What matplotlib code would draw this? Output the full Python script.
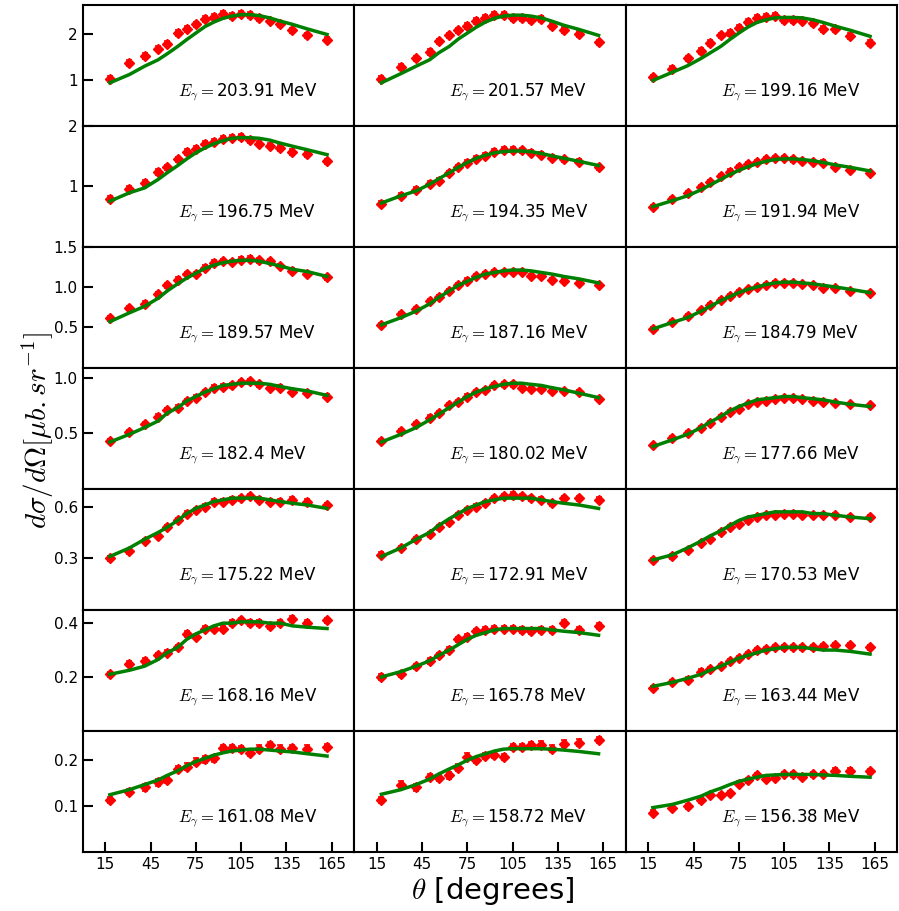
import numpy as np
import matplotlib
matplotlib.use("Agg")
from matplotlib import pyplot as plt

plt.rcParams["mathtext.fontset"] = "cm"

angles = [18, 31, 41, 50, 56, 63, 69, 75, 81, 87, 93, 99, 105, 111, 117, 124, 131, 139, 149, 162]

energies = [203.91, 201.57, 199.16,
            196.75, 194.35, 191.94,
            189.57, 187.16, 184.79,
            182.4, 180.02, 177.66,
            175.22, 172.91, 170.53,
            168.16, 165.78, 163.44,
            161.08, 158.72, 156.38]

# measured cross sections, one list per panel
exp_203 = [1.01, 1.36, 1.51, 1.67, 1.78, 2.01, 2.10, 2.20, 2.32, 2.36, 2.43, 2.38, 2.42, 2.40, 2.34, 2.28, 2.20, 2.07, 1.96, 1.87]
exp_201 = [1.01, 1.27, 1.46, 1.60, 1.83, 1.96, 2.07, 2.16, 2.27, 2.34, 2.40, 2.40, 2.34, 2.34, 2.30, 2.32, 2.16, 2.08, 1.99, 1.81]
exp_199 = [1.05, 1.24, 1.46, 1.62, 1.80, 1.96, 2.01, 2.13, 2.25, 2.34, 2.36, 2.38, 2.30, 2.30, 2.28, 2.23, 2.10, 2.10, 1.95, 1.80]
exp_196 = [0.79, 0.96, 1.05, 1.23, 1.31, 1.44, 1.56, 1.62, 1.70, 1.73, 1.78, 1.80, 1.81, 1.76, 1.70, 1.67, 1.63, 1.56, 1.53, 1.41]
exp_194 = [0.71, 0.84, 0.94, 1.04, 1.09, 1.21, 1.31, 1.39, 1.45, 1.50, 1.57, 1.60, 1.60, 1.59, 1.55, 1.52, 1.47, 1.44, 1.40, 1.31]
exp_191 = [0.66, 0.79, 0.88, 0.98, 1.07, 1.16, 1.24, 1.32, 1.36, 1.40, 1.44, 1.47, 1.47, 1.44, 1.42, 1.40, 1.39, 1.32, 1.27, 1.22]
exp_189 = [0.61, 0.74, 0.79, 0.91, 1.02, 1.09, 1.16, 1.16, 1.24, 1.30, 1.32, 1.31, 1.34, 1.35, 1.33, 1.32, 1.26, 1.20, 1.16, 1.12]
exp_187 = [0.53, 0.66, 0.73, 0.83, 0.88, 0.95, 1.03, 1.08, 1.14, 1.16, 1.19, 1.19, 1.18, 1.18, 1.14, 1.13, 1.09, 1.08, 1.05, 1.02]
exp_184 = [0.48, 0.57, 0.64, 0.71, 0.78, 0.84, 0.89, 0.94, 0.97, 1.00, 1.03, 1.05, 1.05, 1.05, 1.04, 1.03, 0.99, 0.99, 0.95, 0.93]
exp_182 = [0.43, 0.51, 0.58, 0.65, 0.71, 0.73, 0.79, 0.82, 0.87, 0.91, 0.92, 0.93, 0.96, 0.97, 0.94, 0.91, 0.91, 0.87, 0.86, 0.83]
exp_180 = [0.43, 0.52, 0.58, 0.64, 0.68, 0.75, 0.78, 0.83, 0.87, 0.89, 0.93, 0.94, 0.94, 0.91, 0.90, 0.90, 0.88, 0.88, 0.87, 0.81]
exp_177 = [0.39, 0.46, 0.50, 0.55, 0.59, 0.65, 0.69, 0.72, 0.76, 0.78, 0.79, 0.81, 0.82, 0.82, 0.81, 0.79, 0.78, 0.77, 0.76, 0.75]
exp_175 = [0.30, 0.34, 0.40, 0.43, 0.48, 0.52, 0.56, 0.58, 0.60, 0.63, 0.63, 0.64, 0.65, 0.66, 0.64, 0.63, 0.63, 0.64, 0.63, 0.61]
exp_172 = [0.32, 0.36, 0.41, 0.44, 0.48, 0.51, 0.55, 0.58, 0.60, 0.62, 0.65, 0.66, 0.67, 0.66, 0.65, 0.64, 0.62, 0.65, 0.65, 0.64]
exp_170 = [0.29, 0.31, 0.35, 0.39, 0.41, 0.45, 0.48, 0.50, 0.52, 0.54, 0.55, 0.55, 0.56, 0.56, 0.55, 0.55, 0.55, 0.55, 0.54, 0.54]
exp_168 = [0.21, 0.25, 0.26, 0.28, 0.29, 0.31, 0.36, 0.35, 0.38, 0.38, 0.38, 0.40, 0.41, 0.40, 0.40, 0.39, 0.40, 0.415, 0.40, 0.41]
exp_165 = [0.20, 0.21, 0.24, 0.26, 0.28, 0.30, 0.34, 0.35, 0.37, 0.375, 0.38, 0.38, 0.38, 0.375, 0.37, 0.375, 0.375, 0.40, 0.375, 0.39]
exp_163 = [0.16, 0.18, 0.19, 0.22, 0.23, 0.24, 0.26, 0.27, 0.285, 0.30, 0.305, 0.31, 0.31, 0.31, 0.31, 0.31, 0.315, 0.32, 0.32, 0.31]
exp_161 = [0.113, 0.130, 0.140, 0.151, 0.157, 0.180, 0.185, 0.196, 0.201, 0.203, 0.226, 0.225, 0.223, 0.215, 0.224, 0.231, 0.224, 0.225, 0.224, 0.228]
exp_158 = [0.112, 0.146, 0.140, 0.162, 0.160, 0.166, 0.183, 0.207, 0.199, 0.208, 0.210, 0.206, 0.228, 0.228, 0.232, 0.233, 0.224, 0.235, 0.237, 0.243]
exp_156 = [0.085, 0.096, 0.099, 0.112, 0.123, 0.123, 0.128, 0.148, 0.155, 0.166, 0.158, 0.161, 0.169, 0.168, 0.163, 0.168, 0.169, 0.176, 0.176, 0.175]

# model curves
th_203 = [0.93, 1.11, 1.29, 1.43, 1.56, 1.72, 1.87, 2.01, 2.15, 2.25, 2.33, 2.38, 2.41, 2.41, 2.39, 2.34, 2.27, 2.20, 2.10, 1.98]
th_201 = [0.93, 1.13, 1.29, 1.43, 1.58, 1.72, 1.88, 2.01, 2.14, 2.25, 2.33, 2.38, 2.40, 2.40, 2.38, 2.34, 2.27, 2.18, 2.09, 1.96]
th_199 = [0.98, 1.16, 1.30, 1.46, 1.58, 1.72, 1.87, 2.01, 2.14, 2.24, 2.30, 2.34, 2.35, 2.35, 2.34, 2.30, 2.24, 2.16, 2.07, 1.94]
th_196 = [0.75, 0.89, 0.97, 1.11, 1.22, 1.34, 1.45, 1.55, 1.63, 1.70, 1.75, 1.79, 1.80, 1.80, 1.79, 1.76, 1.71, 1.66, 1.60, 1.52]
th_194 = [0.72, 0.84, 0.92, 1.03, 1.12, 1.22, 1.31, 1.39, 1.46, 1.51, 1.55, 1.57, 1.58, 1.58, 1.57, 1.54, 1.50, 1.46, 1.41, 1.34]
th_191 = [0.66, 0.76, 0.84, 0.94, 1.02, 1.11, 1.19, 1.26, 1.32, 1.37, 1.41, 1.44, 1.45, 1.45, 1.44, 1.42, 1.39, 1.35, 1.31, 1.25]
th_189 = [0.57, 0.68, 0.76, 0.86, 0.95, 1.04, 1.11, 1.17, 1.23, 1.27, 1.30, 1.32, 1.33, 1.33, 1.32, 1.29, 1.26, 1.22, 1.19, 1.13]
th_187 = [0.53, 0.62, 0.70, 0.79, 0.87, 0.95, 1.02, 1.07, 1.12, 1.16, 1.18, 1.20, 1.21, 1.21, 1.20, 1.18, 1.16, 1.13, 1.10, 1.05]
th_184 = [0.48, 0.56, 0.62, 0.70, 0.76, 0.83, 0.88, 0.93, 0.97, 1.00, 1.03, 1.05, 1.06, 1.06, 1.05, 1.04, 1.02, 1.00, 0.97, 0.93]
th_182 = [0.42, 0.49, 0.55, 0.61, 0.68, 0.73, 0.79, 0.83, 0.87, 0.90, 0.93, 0.94, 0.95, 0.95, 0.95, 0.94, 0.92, 0.90, 0.88, 0.84]
th_180 = [0.42, 0.49, 0.55, 0.62, 0.67, 0.73, 0.78, 0.83, 0.87, 0.90, 0.92, 0.94, 0.95, 0.95, 0.94, 0.93, 0.91, 0.89, 0.86, 0.82]
th_177 = [0.38, 0.44, 0.49, 0.55, 0.60, 0.65, 0.70, 0.74, 0.77, 0.80, 0.81, 0.82, 0.83, 0.83, 0.82, 0.81, 0.80, 0.78, 0.76, 0.74]
th_175 = [0.31, 0.36, 0.41, 0.45, 0.48, 0.52, 0.56, 0.59, 0.61, 0.63, 0.64, 0.65, 0.65, 0.65, 0.65, 0.64, 0.63, 0.62, 0.61, 0.59]
th_172 = [0.31, 0.36, 0.41, 0.45, 0.49, 0.53, 0.56, 0.59, 0.61, 0.63, 0.64, 0.65, 0.65, 0.65, 0.65, 0.64, 0.63, 0.62, 0.61, 0.59]
th_170 = [0.29, 0.32, 0.36, 0.40, 0.43, 0.46, 0.49, 0.52, 0.54, 0.55, 0.56, 0.57, 0.57, 0.57, 0.57, 0.56, 0.56, 0.55, 0.54, 0.53]
th_168 = [0.21, 0.225, 0.24, 0.265, 0.29, 0.31, 0.34, 0.36, 0.375, 0.39, 0.40, 0.40, 0.405, 0.405, 0.405, 0.40, 0.40, 0.39, 0.385, 0.38]
th_165 = [0.20, 0.22, 0.24, 0.26, 0.28, 0.30, 0.32, 0.34, 0.355, 0.365, 0.375, 0.38, 0.38, 0.38, 0.38, 0.38, 0.375, 0.37, 0.365, 0.355]
th_163 = [0.165, 0.18, 0.195, 0.21, 0.225, 0.24, 0.255, 0.27, 0.28, 0.29, 0.30, 0.305, 0.31, 0.31, 0.31, 0.305, 0.30, 0.30, 0.295, 0.285]
th_161 = [0.124, 0.135, 0.146, 0.156, 0.166, 0.176, 0.187, 0.196, 0.203, 0.210, 0.215, 0.219, 0.221, 0.223, 0.223, 0.221, 0.219, 0.217, 0.213, 0.208]
th_158 = [0.125, 0.135, 0.146, 0.158, 0.169, 0.180, 0.189, 0.199, 0.207, 0.213, 0.219, 0.223, 0.224, 0.224, 0.224, 0.224, 0.223, 0.221, 0.218, 0.213]
th_156 = [0.096, 0.103, 0.112, 0.121, 0.130, 0.138, 0.146, 0.153, 0.158, 0.162, 0.166, 0.167, 0.168, 0.168, 0.168, 0.168, 0.167, 0.166, 0.164, 0.162]

# typical error bar size in each panel
errors = [0.06, 0.06, 0.06,
          0.045, 0.04, 0.035,
          0.03, 0.025, 0.022,
          0.02, 0.02, 0.016,
          0.014, 0.014, 0.012,
          0.01, 0.01, 0.008,
          0.007, 0.007, 0.005]

exp_data = [exp_203, exp_201, exp_199, exp_196, exp_194, exp_191, exp_189, exp_187, exp_184,
            exp_182, exp_180, exp_177, exp_175, exp_172, exp_170, exp_168, exp_165, exp_163,
            exp_161, exp_158, exp_156]
th_data = [th_203, th_201, th_199, th_196, th_194, th_191, th_189, th_187, th_184,
           th_182, th_180, th_177, th_175, th_172, th_170, th_168, th_165, th_163,
           th_161, th_158, th_156]

row_ylim = [2.63, 2.0, 1.5, 1.09, 0.705, 0.45, 0.263]
row_ticks = [[1, 2], [1, 2], [0.5, 1.0, 1.5], [0.5, 1.0], [0.3, 0.6], [0.2, 0.4], [0.1, 0.2]]
row_fmt = ["%d", "%d", "%.1f", "%.1f", "%.1f", "%.1f", "%.1f"]
xticks = [15, 45, 75, 105, 135, 165]

fig, axes = plt.subplots(7, 3, figsize=(8.99, 9.11), dpi=100)
fig.subplots_adjust(left=0.092, right=0.998, bottom=0.065, top=0.995, hspace=0, wspace=0)

for i, ax in enumerate(axes.flat):
    r, c = divmod(i, 3)
    ax.errorbar(angles, exp_data[i], yerr=errors[i], fmt='D', color='red', ms=5,
                ecolor='red', elinewidth=1.2, capsize=2.5, capthick=1.2, zorder=2)
    ax.plot(angles, th_data[i], color='green', lw=2.5, zorder=3)
    ax.text(0.35, 0.28, r"$E_\gamma=$" + f"{energies[i]} MeV", transform=ax.transAxes,
            fontsize=12, va='center')
    ax.set_xlim(0, 180)
    ax.set_ylim(0, row_ylim[r])
    ax.set_xticks(xticks)
    ax.set_yticks(row_ticks[r])
    ax.yaxis.set_major_formatter(matplotlib.ticker.FormatStrFormatter(row_fmt[r]))
    for s in ax.spines.values():
        s.set_linewidth(1.5)
    ax.tick_params(direction='in', length=7, width=1.5, labelsize=11)
    if r < 6:
        ax.tick_params(axis='x', length=0, labelbottom=False)
    if c > 0:
        ax.tick_params(axis='y', length=0, labelleft=False)

fig.text(0.042, 0.527, r"$d\sigma/d\Omega[\mu b.sr^{-1}]$", rotation=90, fontsize=21,
         ha='center', va='center')
fig.text(0.548, 0.022, r"$\theta$ [degrees]", fontsize=21, ha='center', va='center')

plt.savefig("out.png", dpi=100)
